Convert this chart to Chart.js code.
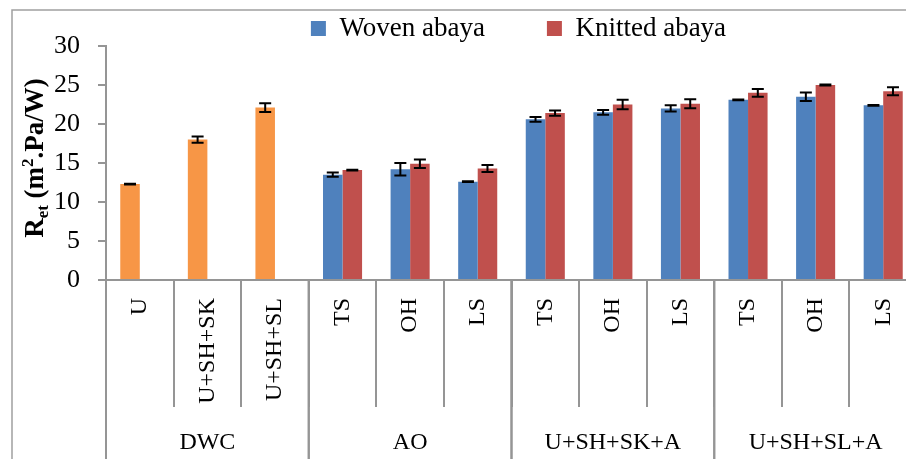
<!DOCTYPE html>
<html>
<head>
<meta charset="utf-8">
<script src="https://cdn.jsdelivr.net/npm/chart.js@4.4.1/dist/chart.umd.min.js"></script>
<style>
  html, body { margin: 0; padding: 0; background: #fff; overflow: hidden; }
  #wrap { position: relative; width: 917px; height: 459px; }
</style>
</head>
<body>
<div id="wrap"><canvas id="chart" width="917" height="459"></canvas></div>
<script>
// Garment configurations along the x axis, and the groups they belong to
const categories = ['U', 'U+SH+SK', 'U+SH+SL', 'TS', 'OH', 'LS', 'TS', 'OH', 'LS', 'TS', 'OH', 'LS'];
const groupLabels = ['DWC', 'AO', 'U+SH+SK+A', 'U+SH+SL+A'];
const groupStarts = [0, 3, 6, 9];
const groupEnds = [2, 5, 8, 11];

// Evaporative resistance Ret (m2.Pa/W) with standard deviations
const dwcValues = [12.3, 18.0, 22.1, null, null, null, null, null, null, null, null, null];
const dwcErrors = [0.05, 0.4, 0.55, 0, 0, 0, 0, 0, 0, 0, 0, 0];
const wovenValues = [null, null, null, 13.5, 14.2, 12.6, 20.6, 21.5, 22.0, 23.1, 23.5, 22.4];
const wovenErrors = [0, 0, 0, 0.27, 0.8, 0.05, 0.3, 0.3, 0.4, 0.05, 0.55, 0.05];
const knittedValues = [null, null, null, 14.1, 14.9, 14.3, 21.4, 22.5, 22.6, 24.0, 25.0, 24.2];
const knittedErrors = [0, 0, 0, 0.05, 0.55, 0.45, 0.33, 0.6, 0.58, 0.5, 0.08, 0.5];

// Value axis
const yMin = 0;
const yMax = 30;
const yStep = 5;

const SERIF = '"Liberation Serif", "DejaVu Serif", serif';
const AXIS_GREY = '#959595';

// === PLUGIN: frame, error bars, group row, rotated axis title ===

const decor = {
    id: 'decor',

    afterLayout(chart) {
        // legend sits right of centre, just above the plot
        const lg = chart.legend;
        const dx = 60, dy = 6;
        lg.left += dx; lg.right += dx;
        lg.top += dy; lg.bottom += dy;
    },

    beforeDraw(chart) {
        const ctx = chart.ctx;
        ctx.save();
        ctx.strokeStyle = '#a0a0a0';
        ctx.lineWidth = 1.5;
        ctx.beginPath();
        ctx.moveTo(12, chart.height);
        ctx.lineTo(12, 10);
        ctx.lineTo(chart.width, 10);
        ctx.stroke();
        ctx.restore();
    },

    afterDatasetsDraw(chart) {
        const ctx = chart.ctx;
        const y = chart.scales.y;
        ctx.save();
        ctx.strokeStyle = '#000';
        ctx.lineWidth = 2;
        chart.data.datasets.forEach((ds, di) => {
            const meta = chart.getDatasetMeta(di);
            meta.data.forEach((bar, i) => {
                const v = ds.data[i];
                if (v === null) return;
                const err = ds.errors[i];
                const x = bar.x;
                const yTop = y.getPixelForValue(v + err);
                const yBot = y.getPixelForValue(v - err);
                const cap = 6;
                ctx.beginPath();
                ctx.moveTo(x, yTop); ctx.lineTo(x, yBot);
                ctx.moveTo(x - cap, yTop); ctx.lineTo(x + cap, yTop);
                ctx.moveTo(x - cap, yBot); ctx.lineTo(x + cap, yBot);
                ctx.stroke();
            });
        });
        ctx.restore();
    },

    afterDraw(chart) {
        const ctx = chart.ctx;
        const x = chart.scales.x;
        const area = chart.chartArea;
        const half = (x.getPixelForValue(1) - x.getPixelForValue(0)) / 2;

        // long separators between groups and group names underneath
        ctx.save();
        ctx.strokeStyle = AXIS_GREY;
        ctx.lineWidth = 2;
        ctx.fillStyle = '#000';
        ctx.font = '24px ' + SERIF;
        ctx.textAlign = 'center';
        ctx.textBaseline = 'middle';
        groupLabels.forEach((label, g) => {
            const left = x.getPixelForValue(groupStarts[g]) - half;
            const right = x.getPixelForValue(groupEnds[g]) + half;
            ctx.beginPath();
            ctx.moveTo(left, area.bottom);
            ctx.lineTo(left, chart.height);
            ctx.moveTo(right, area.bottom);
            ctx.lineTo(right, chart.height);
            ctx.stroke();
            ctx.fillText(label, (left + right) / 2, 443);
        });
        ctx.restore();

        // y axis title with subscript and superscript
        const big = 'bold 27px ' + SERIF;
        const small = 'bold 17px ' + SERIF;
        const parts = [
            { t: 'R', f: big, dy: 0 },
            { t: 'et', f: small, dy: 5 },
            { t: ' (m', f: big, dy: 0 },
            { t: '2', f: small, dy: -10 },
            { t: '.Pa/W)', f: big, dy: 0 }
        ];
        ctx.save();
        let total = 0;
        parts.forEach(p => { ctx.font = p.f; p.w = ctx.measureText(p.t).width; total += p.w; });
        ctx.translate(43, 158);
        ctx.rotate(-Math.PI / 2);
        ctx.fillStyle = '#000';
        ctx.textBaseline = 'alphabetic';
        ctx.textAlign = 'left';
        let cx = -total / 2;
        parts.forEach(p => {
            ctx.font = p.f;
            ctx.fillText(p.t, cx, p.dy);
            cx += p.w;
        });
        ctx.restore();
    }
};

const ctx = document.getElementById('chart').getContext('2d');
new Chart(ctx, {
    type: 'bar',
    data: {
        labels: categories,
        datasets: [
            {
                label: 'Woven abaya',
                data: wovenValues,
                errors: wovenErrors,
                backgroundColor: '#4F81BD',
                stack: 'left'
            },
            {
                label: 'Knitted abaya',
                data: knittedValues,
                errors: knittedErrors,
                backgroundColor: '#C0504D',
                stack: 'right'
            },
            {
                // single-configuration bars share the woven slot
                label: 'DWC',
                data: dwcValues,
                errors: dwcErrors,
                backgroundColor: '#F79646',
                stack: 'left'
            }
        ]
    },
    options: {
        responsive: false,
        animation: false,
        layout: {
            padding: { left: 0, right: 0, top: -53, bottom: 0 }
        },
        datasets: {
            bar: {
                categoryPercentage: 0.578,
                barPercentage: 1.0
            }
        },
        plugins: {
            legend: {
                position: 'top',
                labels: {
                    boxWidth: 15,
                    boxHeight: 15,
                    padding: 62,
                    color: '#000',
                    font: { family: SERIF, size: 27 },
                    filter: item => item.text !== 'DWC'
                }
            },
            tooltip: { enabled: false }
        },
        scales: {
            x: {
                grid: {
                    drawOnChartArea: false,
                    tickLength: 127,
                    color: AXIS_GREY,
                    lineWidth: 2
                },
                border: { color: AXIS_GREY, width: 2 },
                ticks: {
                    autoSkip: false,
                    minRotation: 90,
                    maxRotation: 90,
                    padding: -109,
                    color: '#000',
                    font: { family: SERIF, size: 24 }
                },
                afterFit: scale => { scale.height = 179; }
            },
            y: {
                stacked: false,
                min: yMin,
                max: yMax,
                ticks: {
                    stepSize: yStep,
                    padding: 18,
                    color: '#000',
                    font: { family: SERIF, size: 26 }
                },
                grid: {
                    drawOnChartArea: false,
                    tickLength: 8,
                    color: AXIS_GREY,
                    lineWidth: 2
                },
                border: { color: AXIS_GREY, width: 2 },
                afterFit: scale => { scale.width = 106; }
            }
        }
    },
    plugins: [decor]
});
</script>
</body>
</html>
